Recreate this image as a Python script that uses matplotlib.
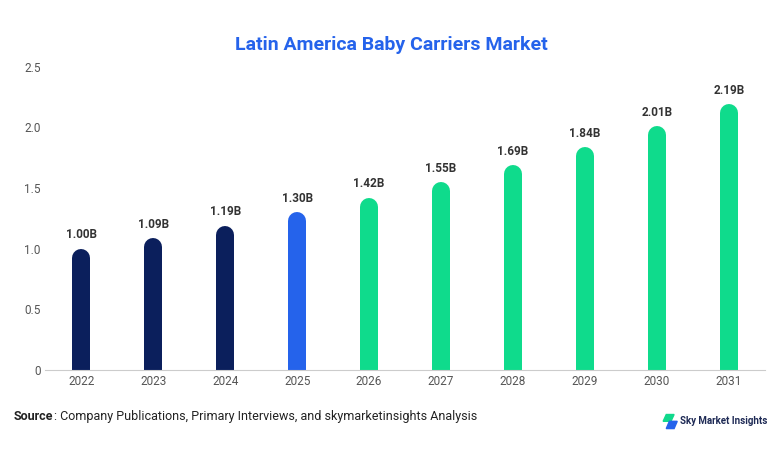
import matplotlib.pyplot as plt
from matplotlib.patches import Polygon

years = ['2022', '2023', '2024', '2025', '2026', '2027', '2028', '2029', '2030', '2031']
values = [1.00, 1.09, 1.19, 1.30, 1.42, 1.55, 1.69, 1.84, 2.01, 2.19]
colors = ['#0b1f5c'] * 3 + ['#2563eb'] + ['#0fdb8c'] * 6

plt.rcParams['font.family'] = ['Roboto', 'DejaVu Sans']
fig = plt.figure(figsize=(7.82, 4.54), dpi=100)
ax = fig.add_axes([0.058, 0.185, 0.92, 0.668])
ax.set_xlim(-0.5, 9.5)
ax.set_ylim(0, 2.5)

# bar width in px -> linewidth in pt, round cap radius in data units
bar_px = 18
lw = bar_px * 72 / 100
px_per_unit = ax.get_position().height * 454 / 2.5
cap = (bar_px / 2) / px_per_unit
for i, (v, c) in enumerate(zip(values, colors)):
    ax.plot([i, i], [-1, v - cap], color=c, lw=lw, solid_capstyle='round')
    ax.text(i, v + 0.06, f'{v:.2f}B', ha='center', va='bottom',
            fontsize=8.5, fontweight='bold', color='#333333')

ax.set_xticks(range(len(years)))
ax.set_xticklabels(years)
ax.set_yticks([0, 0.5, 1.0, 1.5, 2.0, 2.5])
ax.set_yticklabels(['0', '0.5', '1.0', '1.5', '2.0', '2.5'])
ax.tick_params(length=0, labelsize=8.5, labelcolor='#555555')
for s in ['top', 'right', 'left']:
    ax.spines[s].set_visible(False)
ax.spines['bottom'].set_color('#cccccc')

fig.text(0.5, 0.9, 'Latin America Baby Carriers Market', ha='center', va='center',
         fontsize=14, fontweight='bold', color='#2563eb')
fig.text(0.018, 0.083, 'Source', fontsize=9, fontweight='bold', color='#222222', va='center')
fig.text(0.0695, 0.083, ': Company Publications, Primary Interviews, and skymarketinsights Analysis',
         fontsize=9, color='#222222', va='center')

# logo
fig.patches.append(Polygon([[0.852, 0.087], [0.862, 0.087], [0.858, 0.072], [0.848, 0.072]],
                           closed=True, transform=fig.transFigure, color='#10d98c'))
fig.patches.append(Polygon([[0.856, 0.072], [0.866, 0.072], [0.862, 0.056], [0.852, 0.056]],
                           closed=True, transform=fig.transFigure, color='#2563eb'))
fig.text(0.87, 0.072, 'Sky Market Insights', fontsize=7, fontweight='bold',
         color='#1e2a55', va='center')

fig.savefig('out.png')
